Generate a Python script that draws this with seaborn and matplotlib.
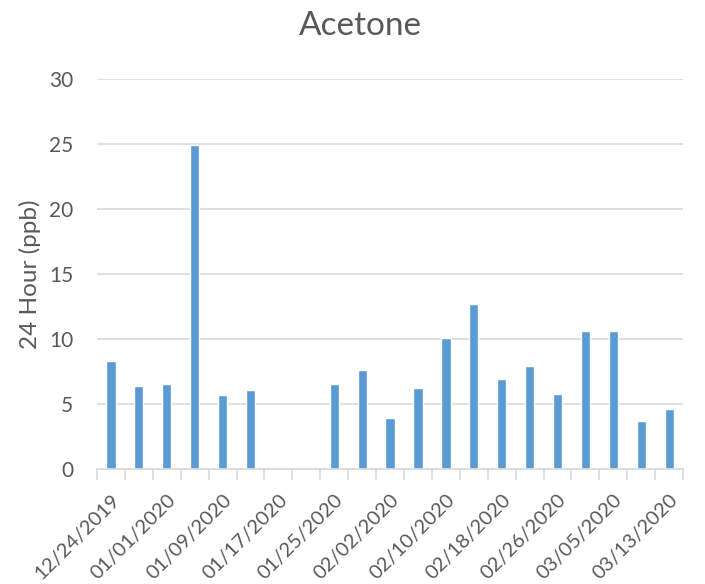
import numpy as np
import pandas as pd
import matplotlib
matplotlib.use("Agg")
import matplotlib.pyplot as plt
import seaborn as sns

# Data
dates = ["12/24/2019", "12/28/2019", "01/01/2020", "01/05/2020", "01/09/2020",
         "01/13/2020", "01/17/2020", "01/21/2020", "01/25/2020", "01/29/2020",
         "02/02/2020", "02/06/2020", "02/10/2020", "02/14/2020", "02/18/2020",
         "02/22/2020", "02/26/2020", "03/01/2020", "03/05/2020", "03/09/2020",
         "03/13/2020"]
acetone = [8.3, 6.4, 6.5, 24.9, 5.7, 6.1, np.nan, np.nan, 6.5, 7.6,
           3.9, 6.2, 10.1, 12.7, 6.9, 7.9, 5.8, 10.6, 10.6, 3.7, 4.6]
y_ticks = [0, 5, 10, 15, 20, 25, 30]

df = pd.DataFrame({"date": dates, "value": acetone})

sns.set_theme(style="white")
plt.rcParams['font.family'] = ['Lato', 'DejaVu Sans']
text_color = "#595959"
grid_color = "#d9d9d9"

fig = plt.figure(figsize=(7.05, 5.84), dpi=100)
ax = fig.add_axes([0.1376, 0.197, 0.8314, 0.668])

sns.barplot(data=df, x="date", y="value", order=dates, color="#5b9bd5",
            width=0.33, saturation=1, ax=ax, errorbar=None)

ax.set_ylim(0, 30)
ax.set_xlim(-0.5, len(dates) - 0.5)
ax.set_yticks(y_ticks)
ax.set_yticklabels([str(t) for t in y_ticks], fontsize=15, color=text_color)
ax.yaxis.grid(True, color=grid_color, linewidth=1.2)
ax.set_axisbelow(True)
ax.tick_params(axis="y", length=0, pad=17)

# category labels every other bar, boundary ticks between categories
ax.set_xticks(range(0, len(dates), 2))
ax.set_xticklabels(dates[::2], rotation=45, ha="right", rotation_mode="anchor",
                   fontsize=14.5, color=text_color)
ax.set_xticks(np.arange(-0.5, len(dates), 1), minor=True)
ax.tick_params(axis="x", which="major", length=0, pad=16)
ax.tick_params(axis="x", which="minor", length=8, width=1.2, color=grid_color,
               bottom=True, direction="out")

for s in ["top", "right", "left"]:
    ax.spines[s].set_visible(False)
ax.spines["bottom"].set_color(grid_color)
ax.spines["bottom"].set_linewidth(1.2)

ax.set_xlabel("")
ax.set_ylabel("24 Hour (ppb)", fontsize=17.5, color=text_color, labelpad=6)

fig.text(0.511, 0.955, "Acetone", ha="center", va="center", fontsize=24,
         color=text_color)

fig.savefig("out.png", dpi=100)
